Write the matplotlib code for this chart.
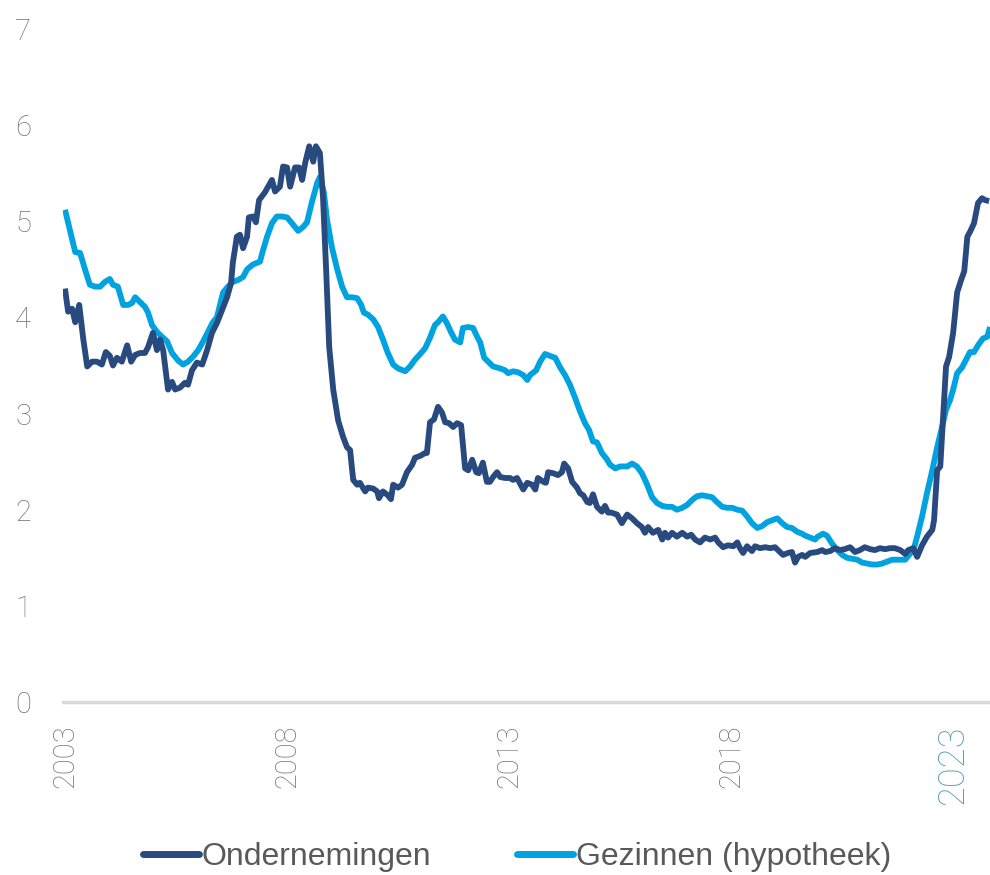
import matplotlib
matplotlib.use("Agg")
import matplotlib.pyplot as plt
from matplotlib import font_manager as fm

# ---------------- data ----------------
ond_t = [2003.00, 2003.07, 2003.16, 2003.23, 2003.32, 2003.41, 2003.50, 2003.61, 2003.72, 2003.83,
         2003.92, 2004.01, 2004.08, 2004.17, 2004.28, 2004.40, 2004.49, 2004.58, 2004.69, 2004.80,
         2004.87, 2004.98, 2005.07, 2005.14, 2005.21, 2005.32, 2005.41, 2005.48, 2005.59, 2005.70,
         2005.77, 2005.86, 2005.97, 2006.09, 2006.20, 2006.31, 2006.42, 2006.54, 2006.65, 2006.74,
         2006.78, 2006.87, 2006.94, 2007.01, 2007.10, 2007.14, 2007.23, 2007.30, 2007.37, 2007.50,
         2007.66, 2007.73, 2007.84, 2007.91, 2008.00, 2008.07, 2008.18, 2008.27, 2008.34, 2008.41,
         2008.50, 2008.59, 2008.65, 2008.74, 2008.81, 2008.88, 2008.95, 2009.04, 2009.15, 2009.26,
         2009.35, 2009.42, 2009.49, 2009.58, 2009.64, 2009.76, 2009.82, 2009.94, 2010.03, 2010.07,
         2010.16, 2010.27, 2010.34, 2010.39, 2010.50, 2010.59, 2010.70, 2010.82, 2010.88, 2011.00,
         2011.11, 2011.15, 2011.22, 2011.31, 2011.40, 2011.49, 2011.56, 2011.65, 2011.74, 2011.83,
         2011.92, 2012.01, 2012.08, 2012.17, 2012.26, 2012.32, 2012.41, 2012.50, 2012.57, 2012.64,
         2012.73, 2012.80, 2012.91, 2013.02, 2013.09, 2013.18, 2013.32, 2013.41, 2013.52, 2013.59,
         2013.65, 2013.77, 2013.83, 2013.88, 2013.99, 2014.10, 2014.19, 2014.24, 2014.33, 2014.42,
         2014.53, 2014.60, 2014.67, 2014.76, 2014.82, 2014.89, 2014.98, 2015.09, 2015.16, 2015.23,
         2015.30, 2015.43, 2015.54, 2015.66, 2015.77, 2015.88, 2015.99, 2016.06, 2016.13, 2016.24,
         2016.36, 2016.45, 2016.51, 2016.58, 2016.67, 2016.78, 2016.90, 2017.01, 2017.10, 2017.19,
         2017.30, 2017.41, 2017.53, 2017.64, 2017.71, 2017.82, 2017.93, 2018.05, 2018.14, 2018.20,
         2018.27, 2018.36, 2018.47, 2018.54, 2018.65, 2018.77, 2018.88, 2018.99, 2019.10, 2019.17,
         2019.28, 2019.37, 2019.44, 2019.51, 2019.60, 2019.67, 2019.78, 2019.94, 2020.05, 2020.12,
         2020.23, 2020.34, 2020.45, 2020.56, 2020.68, 2020.79, 2020.90, 2021.01, 2021.13, 2021.24,
         2021.35, 2021.47, 2021.58, 2021.69, 2021.81, 2021.92, 2021.99, 2022.10, 2022.19, 2022.30,
         2022.41, 2022.53, 2022.57, 2022.64, 2022.71, 2022.77, 2022.84, 2022.91, 2023.00, 2023.09,
         2023.18, 2023.25, 2023.32, 2023.38, 2023.47, 2023.56, 2023.65, 2023.72, 2023.81]
ond_v = [4.30, 4.06, 4.09, 3.95, 4.13, 3.78, 3.49, 3.54, 3.54, 3.51,
         3.64, 3.60, 3.50, 3.58, 3.54, 3.71, 3.54, 3.61, 3.63, 3.63,
         3.69, 3.84, 3.66, 3.77, 3.66, 3.25, 3.33, 3.25, 3.27, 3.32,
         3.30, 3.45, 3.53, 3.51, 3.66, 3.84, 3.94, 4.08, 4.21, 4.36,
         4.57, 4.84, 4.86, 4.72, 4.84, 5.04, 5.05, 4.99, 5.22, 5.30,
         5.43, 5.31, 5.36, 5.57, 5.56, 5.36, 5.56, 5.56, 5.43, 5.61,
         5.78, 5.62, 5.78, 5.71, 5.25, 4.50, 3.69, 3.25, 2.93, 2.76,
         2.65, 2.62, 2.31, 2.26, 2.28, 2.19, 2.23, 2.22, 2.19, 2.12,
         2.19, 2.15, 2.11, 2.26, 2.23, 2.26, 2.39, 2.47, 2.54, 2.56,
         2.59, 2.59, 2.91, 2.94, 3.07, 3.01, 2.91, 2.90, 2.86, 2.90,
         2.88, 2.43, 2.41, 2.52, 2.39, 2.38, 2.49, 2.29, 2.29, 2.34,
         2.39, 2.34, 2.33, 2.33, 2.31, 2.33, 2.21, 2.28, 2.26, 2.21,
         2.33, 2.29, 2.28, 2.39, 2.38, 2.36, 2.39, 2.48, 2.43, 2.29,
         2.23, 2.17, 2.15, 2.08, 2.07, 2.16, 2.03, 1.98, 2.04, 1.97,
         1.97, 1.95, 1.86, 1.95, 1.91, 1.86, 1.82, 1.76, 1.82, 1.76,
         1.79, 1.69, 1.76, 1.71, 1.76, 1.72, 1.76, 1.72, 1.74, 1.69,
         1.66, 1.71, 1.69, 1.71, 1.66, 1.61, 1.63, 1.62, 1.66, 1.60,
         1.55, 1.62, 1.57, 1.62, 1.60, 1.61, 1.60, 1.61, 1.56, 1.53,
         1.55, 1.56, 1.45, 1.51, 1.53, 1.51, 1.55, 1.56, 1.58, 1.56,
         1.57, 1.60, 1.58, 1.59, 1.61, 1.56, 1.58, 1.61, 1.59, 1.58,
         1.60, 1.59, 1.60, 1.60, 1.58, 1.54, 1.58, 1.60, 1.51, 1.63,
         1.72, 1.79, 1.89, 2.41, 2.45, 2.93, 3.49, 3.59, 3.84, 4.26,
         4.39, 4.48, 4.84, 4.89, 4.98, 5.19, 5.24, 5.22, 5.21]

gez_t = [2003.00, 2003.11, 2003.23, 2003.34, 2003.45, 2003.56, 2003.68, 2003.79, 2003.90, 2004.01,
         2004.08, 2004.19, 2004.31, 2004.42, 2004.51, 2004.58, 2004.69, 2004.80, 2004.87, 2004.96,
         2005.07, 2005.18, 2005.30, 2005.41, 2005.55, 2005.66, 2005.77, 2005.88, 2006.00, 2006.11,
         2006.22, 2006.33, 2006.42, 2006.49, 2006.56, 2006.67, 2006.78, 2006.90, 2007.01, 2007.10,
         2007.23, 2007.39, 2007.46, 2007.55, 2007.66, 2007.77, 2007.89, 2008.00, 2008.11, 2008.25,
         2008.36, 2008.45, 2008.56, 2008.68, 2008.74, 2008.83, 2008.90, 2009.01, 2009.13, 2009.24,
         2009.35, 2009.46, 2009.58, 2009.67, 2009.73, 2009.82, 2009.94, 2010.05, 2010.16, 2010.27,
         2010.39, 2010.50, 2010.66, 2010.77, 2010.88, 2011.00, 2011.11, 2011.22, 2011.33, 2011.40,
         2011.51, 2011.60, 2011.69, 2011.78, 2011.90, 2011.96, 2012.08, 2012.19, 2012.28, 2012.35,
         2012.44, 2012.53, 2012.64, 2012.80, 2012.91, 2012.98, 2013.09, 2013.20, 2013.32, 2013.41,
         2013.47, 2013.61, 2013.70, 2013.81, 2013.92, 2014.04, 2014.15, 2014.26, 2014.37, 2014.49,
         2014.60, 2014.71, 2014.80, 2014.89, 2014.98, 2015.09, 2015.21, 2015.27, 2015.39, 2015.50,
         2015.66, 2015.77, 2015.88, 2015.99, 2016.11, 2016.22, 2016.33, 2016.45, 2016.56, 2016.67,
         2016.78, 2016.90, 2017.01, 2017.12, 2017.23, 2017.35, 2017.46, 2017.57, 2017.68, 2017.80,
         2017.91, 2018.02, 2018.14, 2018.25, 2018.36, 2018.47, 2018.59, 2018.70, 2018.81, 2018.92,
         2019.04, 2019.15, 2019.26, 2019.37, 2019.49, 2019.60, 2019.67, 2019.78, 2019.89, 2019.95,
         2020.07, 2020.16, 2020.27, 2020.39, 2020.50, 2020.61, 2020.72, 2020.84, 2020.95, 2021.06,
         2021.18, 2021.29, 2021.40, 2021.51, 2021.63, 2021.74, 2021.85, 2021.92, 2022.01, 2022.12,
         2022.21, 2022.30, 2022.41, 2022.53, 2022.64, 2022.75, 2022.84, 2022.93, 2023.00, 2023.09,
         2023.20, 2023.29, 2023.38, 2023.47, 2023.56, 2023.67, 2023.77, 2023.83]
gez_v = [5.12, 4.91, 4.68, 4.67, 4.50, 4.34, 4.32, 4.32, 4.37, 4.40,
         4.34, 4.32, 4.13, 4.13, 4.15, 4.21, 4.16, 4.11, 4.05, 3.92,
         3.85, 3.80, 3.75, 3.63, 3.55, 3.51, 3.54, 3.59, 3.66, 3.75,
         3.85, 3.95, 4.00, 4.13, 4.26, 4.32, 4.37, 4.39, 4.42, 4.50,
         4.55, 4.58, 4.70, 4.84, 4.98, 5.05, 5.05, 5.04, 4.98, 4.90,
         4.94, 4.99, 5.20, 5.40, 5.46, 5.30, 5.02, 4.73, 4.50, 4.32,
         4.21, 4.21, 4.20, 4.13, 4.05, 4.03, 3.98, 3.90, 3.77, 3.63,
         3.51, 3.47, 3.44, 3.49, 3.56, 3.62, 3.68, 3.79, 3.92, 3.95,
         4.01, 3.94, 3.85, 3.77, 3.74, 3.89, 3.90, 3.89, 3.80, 3.74,
         3.58, 3.54, 3.49, 3.47, 3.45, 3.42, 3.44, 3.43, 3.40, 3.35,
         3.40, 3.45, 3.54, 3.62, 3.60, 3.58, 3.48, 3.40, 3.30, 3.16,
         3.02, 2.90, 2.83, 2.71, 2.70, 2.59, 2.52, 2.47, 2.43, 2.45,
         2.45, 2.48, 2.45, 2.38, 2.26, 2.13, 2.07, 2.04, 2.03, 2.03,
         2.00, 2.02, 2.05, 2.10, 2.14, 2.15, 2.14, 2.13, 2.08, 2.03,
         2.02, 2.02, 2.00, 1.99, 1.93, 1.86, 1.81, 1.83, 1.87, 1.89,
         1.91, 1.86, 1.82, 1.81, 1.77, 1.75, 1.73, 1.71, 1.69, 1.72,
         1.75, 1.73, 1.65, 1.58, 1.53, 1.50, 1.49, 1.48, 1.45, 1.44,
         1.43, 1.43, 1.44, 1.46, 1.48, 1.48, 1.48, 1.48, 1.53, 1.60,
         1.76, 1.93, 2.17, 2.41, 2.65, 2.86, 3.04, 3.14, 3.25, 3.42,
         3.48, 3.56, 3.64, 3.64, 3.71, 3.78, 3.80, 3.90]

series_names = ["Ondernemingen", "Gezinnen (hypotheek)"]
year_ticks = [2003, 2008, 2013, 2018, 2023]
year_labels = ["2003", "2008", "2013", "2018", "2023"]
y_ticks = [0, 1, 2, 3, 4, 5, 6, 7]

# ---------------- styling ----------------
DARK = "#284a7e"
LIGHT = "#00a2df"
GREY = "#737373"
TEAL = "#5a9fb0"

avail = {f.name for f in fm.fontManager.ttflist}
tick_family = ["Roboto", "DejaVu Sans"] if "Roboto" in avail else ["DejaVu Sans"]
leg_family = "Liberation Sans Narrow" if "Liberation Sans Narrow" in avail else "Liberation Sans"

fig = plt.figure(figsize=(9.9, 8.75), dpi=100)
ax = fig.add_axes([63 / 990, 1 - 702 / 875, 927 / 990, (702 - 29) / 875])

ax.plot(ond_t, ond_v, color=DARK, lw=4.2, solid_joinstyle="round", solid_capstyle="butt",
        label=series_names[0], zorder=3)
ax.plot(gez_t, gez_v, color=LIGHT, lw=4.2, solid_joinstyle="round", solid_capstyle="butt",
        label=series_names[1], zorder=2)

ax.set_xlim(2002.955, 2023.83)
ax.set_ylim(0, 7)

for s in ["top", "right", "left"]:
    ax.spines[s].set_visible(False)
ax.spines["bottom"].set_color("#d9d9d9")
ax.spines["bottom"].set_linewidth(2.5)
ax.spines["bottom"].set_zorder(1)

ax.set_yticks(y_ticks)
ax.set_yticklabels([str(v) for v in y_ticks], family=tick_family, fontweight="light",
                   fontsize=21, color=GREY)
ax.tick_params(axis="y", length=0, pad=23)

ax.set_xticks(year_ticks)
ax.set_xticklabels(year_labels, rotation=90, family=tick_family, fontweight="light",
                   fontsize=21, color=GREY, va="top", ha="center")
ax.tick_params(axis="x", length=0, pad=16)
last = ax.get_xticklabels()[-1]
last.set_color(TEAL)
last.set_fontsize(26)

leg = fig.legend(loc="center", bbox_to_anchor=(0.522, 1 - 857 / 875), ncol=2, frameon=False,
                 prop={"family": leg_family, "size": 23}, handlelength=1.75,
                 handletextpad=0.08, columnspacing=2.7)
for t in leg.get_texts():
    t.set_color("#595959")
for h in leg.get_lines():
    h.set_linewidth(5)
    h.set_solid_capstyle("round")

fig.savefig("out.png", dpi=100)
